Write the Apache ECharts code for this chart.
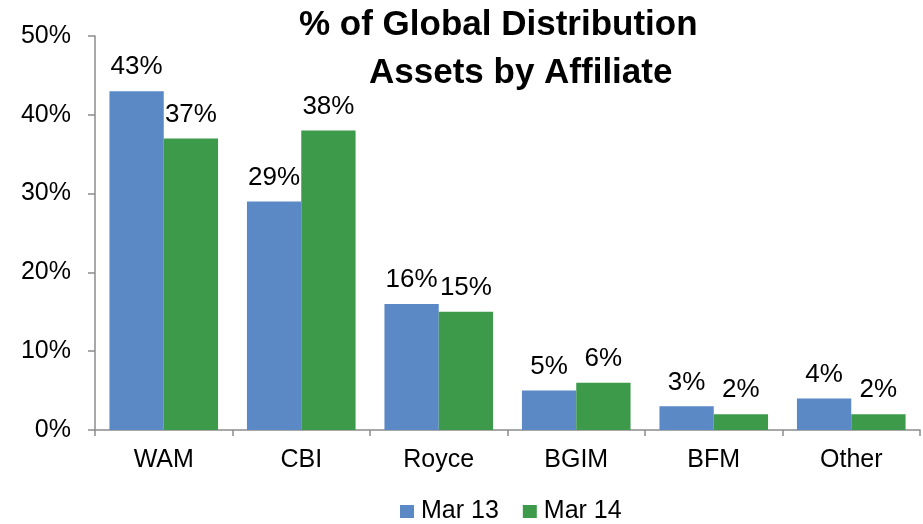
<!DOCTYPE html>
<html>
<head>
<meta charset="utf-8">
<script src="https://cdn.jsdelivr.net/npm/echarts@6/dist/echarts.min.js"></script>
<style>
  html, body { margin: 0; padding: 0; background: #fff; }
  #chart { width: 923px; height: 524px; }
</style>
</head>
<body>
<div id="chart"></div>
<script>
// 数据
var categories = ['WAM', 'CBI', 'Royce', 'BGIM', 'BFM', 'Other'];
var mar13 = [43, 29, 16, 5, 3, 4];
var mar14 = [37, 38, 15, 6, 2, 2];
var yTicks = [0, 10, 20, 30, 40, 50];

var font = 'Liberation Sans, Arial, sans-serif';
var axisColor = '#8c8c8c';

var chart = echarts.init(document.getElementById('chart'));

//柱子上的数值
function labelOpt() {
  return {
    show: true,
    position: 'top',
    distance: 11,
    color: '#000',
    fontSize: 26,
    fontFamily: font,
    formatter: function (p) { return p.value + '%'; }
  };
}

chart.setOption({
  animation: false,
  backgroundColor: '#fff',
  title: [
    {
      text: '% of Global Distribution',
      left: 294,
      top: 3,
      textStyle: { fontSize: 35, fontWeight: 'bold', fontFamily: font, color: '#000' }
    },
    {
      text: 'Assets by Affiliate',
      left: 364,
      top: 51,
      textStyle: { fontSize: 35, fontWeight: 'bold', fontFamily: font, color: '#000' }
    }
  ],
  legend: {
    data: ['Mar 13', 'Mar 14'],
    top: 499,
    left: 400,
    padding: 0,
    itemWidth: 14,
    itemHeight: 13,
    itemGap: 24,
    icon: 'rect',
    textStyle: { fontSize: 25, fontFamily: font, color: '#000', padding: [0, 0, 0, 2] }
  },
  grid: {
    left: 95,
    right: 3,
    top: 36,
    bottom: 94,
    containLabel: false
  },
  xAxis: {
    type: 'category',
    data: categories,
    axisLine: { lineStyle: { color: axisColor, width: 1.5 } },
    axisTick: { show: true, length: 6, inside: false, lineStyle: { color: axisColor, width: 1.5 } },
    axisLabel: { color: '#000', fontSize: 25, fontFamily: font, margin: 18 }
  },
  yAxis: {
    type: 'value',
    min: yTicks[0],
    max: yTicks[yTicks.length - 1],
    interval: 10,
    axisLine: { show: true, lineStyle: { color: axisColor, width: 1.5 } },
    axisTick: { show: true, length: 7, lineStyle: { color: axisColor, width: 1.5 } },
    splitLine: { show: false },
    axisLabel: {
      color: '#000',
      fontSize: 25,
      fontFamily: font,
      margin: 24,
      formatter: function (v) { return v + '%'; }
    }
  },
  series: [
    {
      name: 'Mar 13',
      type: 'bar',
      data: mar13,
      barGap: '0%',
      barCategoryGap: '21%',
      itemStyle: { color: '#5b89c6' },
      label: labelOpt()
    },
    {
      name: 'Mar 14',
      type: 'bar',
      data: mar14,
      itemStyle: { color: '#3e9a4b' },
      label: labelOpt()
    }
  ]
});
</script>
</body>
</html>
